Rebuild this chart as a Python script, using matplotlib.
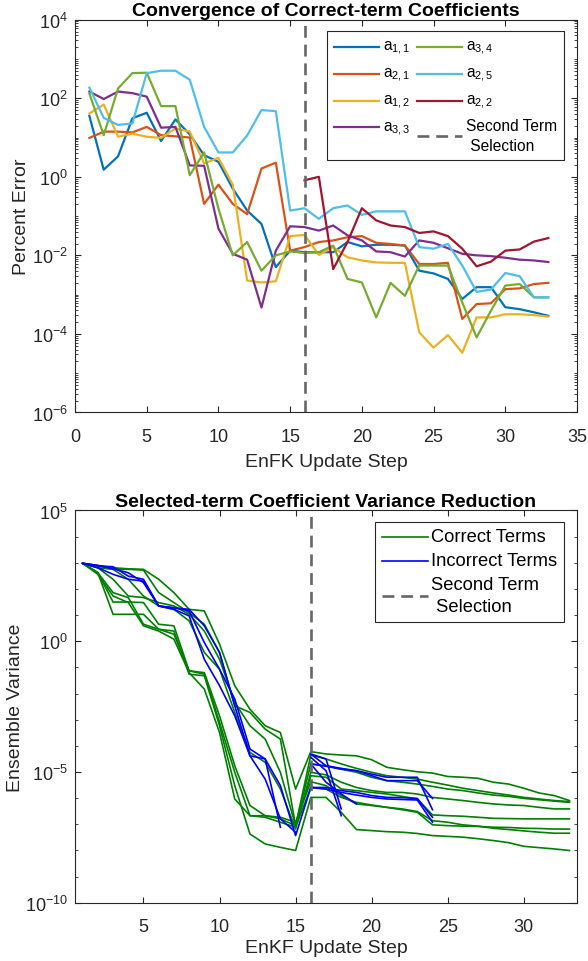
import numpy as np
import matplotlib
matplotlib.use("Agg")
import matplotlib.pyplot as plt
from matplotlib.lines import Line2D
from matplotlib.ticker import FixedLocator, LogLocator, NullFormatter, LogFormatterSciNotation

plt.rcParams['font.family'] = ['Liberation Sans', 'DejaVu Sans']
plt.rcParams['mathtext.fontset'] = 'custom'
plt.rcParams['mathtext.rm'] = 'Liberation Sans'
plt.rcParams['mathtext.it'] = 'Liberation Sans'
plt.rcParams['mathtext.default'] = 'regular'

nan = np.nan

# ---- top panel: percent error (log10 exponents), update steps 1..33
steps = np.arange(1, 34)
a11 = [1.55, 0.18, 0.52, 1.49, 1.63, 0.91, 1.46, 1.08, 0.55, 0.38,
       -0.3, -0.86, -1.2, -2.3, -1.88, -1.92, -1.92, -1.92, -1.66, -1.77, -1.73, -1.73,
       -1.75, -2.39, -2.46, -2.60, -3.11, -2.81, -2.81, -3.32, -3.37, -3.45, -3.54]
a21 = [0.99, 1.15, 1.15, 1.13, 1.27, 1.06, 1.03, 1.0, -0.69, -0.2,
       -0.69, -0.95, 0.21, 0.36, -1.88, -1.79, -1.66, -1.62, -1.54, -1.51, -1.68, -1.71,
       -1.75, -2.22, -2.22, -2.19, -3.62, -3.24, -3.22, -2.86, -2.84, -2.73, -2.70]
a12 = [1.61, 1.84, 1.02, 1.1, 1.02, 0.99, 1.23, 1.15, 0.34, 0.48,
       -0.2, -2.64, -2.69, -2.66, -1.51, -1.48, -1.99, -1.79, -2.05, -2.13, -2.18, -2.19,
       -2.19, -3.96, -4.35, -4.03, -4.48, -3.58, -3.58, -3.50, -3.50, -3.52, -3.56]
a33 = [2.17, 1.98, 2.17, 2.13, 2.04, 1.25, 1.27, 0.29, 0.28, -1.32,
       -1.96, -2.11, -3.33, -1.88, -1.26, -1.28, -1.37, -1.24, -1.49, -1.62, -1.90, -1.92,
       -2.03, -1.62, -1.68, -1.82, -1.96, -2.0, -2.02, -2.06, -2.11, -2.13, -2.17]
a34 = [2.12, 1.06, 2.25, 2.64, 2.65, 1.80, 1.80, 0.04, 0.62, -0.81,
       -2.0, -1.66, -2.39, -2.0, -1.90, -1.94, -1.92, -1.75, -2.60, -2.69, -3.58, -2.70,
       -3.03, -2.26, -2.26, -2.26, -3.2, -4.09, -3.41, -2.77, -2.73, -3.07, -3.07]
a25 = [2.27, 1.5, 1.32, 1.36, 2.64, 2.7, 2.7, 2.47, 1.27, 0.62,
       0.62, 1.05, 1.70, 1.67, -0.86, -0.80, -1.07, -0.80, -0.73, -0.97, -0.88, -0.88,
       -0.88, -1.79, -1.83, -1.71, -2.26, -2.93, -2.87, -2.45, -2.53, -3.07, -3.07]
a22 = [nan] * 15 + [-0.09, 0.0, -2.35, -1.66, -0.80, -1.11, -1.24,
                    -1.28, -1.43, -1.39, -1.51, -1.83, -2.28, -2.16, -1.88, -1.85, -1.65, -1.56]

top_series = [a11, a21, a12, a33, a34, a25, a22]
top_labels = ['$a_{1,1}$', '$a_{2,1}$', '$a_{1,2}$', '$a_{3,3}$',
              '$a_{3,4}$', '$a_{2,5}$', '$a_{2,2}$']
top_colors = ['#0072BD', '#D95319', '#EDB120', '#7E2F8E', '#77AC30', '#4DBEEE', '#A2142F']

second_sel = 16

# ---- bottom panel: ensemble variance (log10 exponents)
correct_terms = [
    [2.98, 2.62, 1.03, 1.03, 1.03, 0.46, 0.39, -1.26, -1.32, -3.23, -5.52, -7.37, -7.75, -7.88, -8.0,
     -5.97, -5.97, -6.54, -7.2, -7.24, -7.28, -7.3, -7.35, -7.43, -7.46, -7.49, -7.55, -7.62, -7.7, -7.84, -7.89, -7.94, -8.0],
    [2.98, 2.62, 1.50, 1.50, 1.48, 0.65, 0.59, -1.13, -1.26, -3.10, -5.01, -6.67, -6.67, -6.73, -6.92,
     -5.37, -5.52, -5.90, -6.22, -6.28, -6.35, -6.44, -6.54, -7.02, -7.05, -7.07, -7.08, -7.11, -7.12, -7.15, -7.16, -7.18, -7.18],
    [2.98, 2.90, 2.81, 2.77, 2.75, 2.37, 1.86, 1.22, 1.16, -0.11, -1.70, -2.60, -3.23, -3.49, -5.65,
     -4.22, -4.31, -4.35, -4.38, -4.53, -4.82, -4.91, -4.99, -5.04, -5.17, -5.2, -5.24, -5.39, -5.46, -5.62, -5.80, -5.90, -6.09],
    [2.98, 2.88, 2.75, 2.75, 2.72, 1.86, 1.48, 1.09, 0.65, -0.43, -2.47, -2.72, -3.36, -3.74, -7.05,
     -4.35, -4.50, -4.69, -4.86, -5.01, -5.14, -5.20, -5.27, -5.39, -5.50, -5.62, -5.71, -5.80, -5.88, -5.97, -6.03, -6.09, -6.13],
    [2.98, 2.81, 2.37, 1.73, 1.67, 1.48, 1.35, 1.03, 0.39, -0.69, -2.34, -3.23, -3.74, -5.01, -7.05,
     -4.69, -4.76, -4.89, -5.01, -5.2, -5.33, -5.39, -5.46, -5.55, -5.65, -5.71, -5.80, -5.88, -5.93, -6.01, -6.06, -6.11, -6.16],
    [2.98, 2.81, 2.75, 2.37, 1.73, 1.35, 1.22, 0.78, -0.43, -1.07, -2.72, -4.25, -4.63, -5.65, -7.18,
     -5.01, -5.11, -5.39, -5.59, -5.71, -5.78, -5.78, -5.84, -5.97, -6.03, -6.09, -6.16, -6.22, -6.26, -6.28, -6.35, -6.41, -6.41],
    [2.98, 2.62, 1.86, 1.67, 0.65, 0.46, 0.27, -1.13, -1.20, -2.85, -4.76, -6.28, -6.67, -6.79, -7.05,
     -5.14, -5.2, -5.65, -5.71, -5.78, -5.84, -5.93, -6.03, -6.64, -6.67, -6.69, -6.73, -6.77, -6.78, -6.79, -6.79, -6.79, -6.79],
    [2.98, 2.56, 1.73, 1.48, 0.59, 0.39, 0.08, -1.20, -1.83, -3.49, -6.03, -6.67, -6.73, -6.92, -7.11,
     -5.59, -5.65, -5.97, -6.16, -6.26, -6.35, -6.41, -6.51, -6.86, -6.92, -7.02, -7.07, -7.15, -7.2, -7.25, -7.30, -7.34, -7.34],
]
incorrect_terms = [
    [2.98, 2.88, 2.85, 2.49, 2.37, 1.35, 1.28, 1.22, 0.59, -0.43, -2.47, -4.38, -4.50, -7.11] + [nan] * 19,
    [2.98, 2.81, 2.56, 2.37, 2.30, 1.35, 1.28, 1.16, -0.05, -1.07, -2.21, -4.12, -4.50, -5.52, -7.43,
     -5.59, -5.59, -5.71, -5.78, -5.90, -5.97, -5.98, -6.01, -6.73] + [nan] * 9,
    [2.98, 2.90, 2.77, 2.62, 2.24, 1.35, 1.22, 0.97, -0.69, -1.70, -2.85, -4.38, -5.27, -6.79, -7.30] + [nan] * 18,
    [nan] * 15 + [-4.31, -4.50, -6.41] + [nan] * 15,
    [nan] * 15 + [-4.44, -4.95, -6.67] + [nan] * 15,
    [nan] * 15 + [-4.69, -5.39, -5.84, -6.22] + [nan] * 14,
    [nan] * 15 + [-4.31, -4.76, -4.86, -4.95, -5.14, -5.33, -5.33, -5.33, -6.01] + [nan] * 9,
    [nan] * 15 + [-4.69, -4.78, -4.89, -4.95, -5.08, -5.20, -5.20, -5.20, -6.44] + [nan] * 9,
    [nan] * 15 + [-5.59, -5.65, -5.78, -5.88, -5.97, -6.03, -6.05, -6.07, -6.92] + [nan] * 9,
]

axis_col = '#262626'
dash_col = '#666666'
dash_pat = (4.5, 2.6)


def tidy_legend(leg, spacing):
    # handle centred on a two-line label, as MATLAB does
    for col in leg._legend_handle_box.get_children():
        for row in col.get_children():
            row.align = 'center'
    for t in leg.get_texts():
        t.set_linespacing(spacing)
    leg.get_frame().set_linewidth(0.8)


fig = plt.figure(figsize=(5.88, 9.62), dpi=100)
ax1 = fig.add_axes([0.1276, 0.5702, 0.8537, 0.4083])
ax2 = fig.add_axes([0.1276, 0.0605, 0.8537, 0.4078])

# top panel
for vals, lab, col in zip(top_series, top_labels, top_colors):
    ax1.semilogy(steps, 10.0 ** np.array(vals), color=col, lw=1.6, label=lab)
ax1.axvline(second_sel, color=dash_col, lw=1.9, dashes=dash_pat,
            label='Second Term\n Selection')
ax1.set_xlim(0, 35)
ax1.set_ylim(1e-6, 1e4)
ax1.yaxis.set_major_locator(FixedLocator([1e-6, 1e-4, 1e-2, 1e0, 1e2, 1e4]))
ax1.yaxis.set_major_formatter(LogFormatterSciNotation())
ax1.yaxis.set_minor_locator(LogLocator(base=10, subs=np.arange(1, 10), numticks=100))
ax1.yaxis.set_minor_formatter(NullFormatter())
ax1.set_xticks(np.arange(0, 36, 5))
ax1.set_title('Convergence of Correct-term Coefficients', fontsize=14, fontweight='bold', pad=3.5)
ax1.set_xlabel('EnFK Update Step', fontsize=14, color=axis_col, labelpad=6)
ax1.set_ylabel('Percent Error', fontsize=14, color=axis_col, labelpad=1.5)
leg1 = ax1.legend(ncol=2, loc='upper right', bbox_to_anchor=(0.974, 0.971), borderaxespad=0,
                  fontsize=11.2, frameon=True, fancybox=False, edgecolor=axis_col, framealpha=1,
                  handlelength=2.9, handletextpad=0.25, columnspacing=0.45, labelspacing=0.55,
                  borderpad=0.45)
tidy_legend(leg1, 1.4)

# bottom panel
for vals in correct_terms:
    ax2.semilogy(steps, 10.0 ** np.array(vals), color='#008000', lw=1.2)
for vals in incorrect_terms:
    ax2.semilogy(steps, 10.0 ** np.array(vals), color='#0000FF', lw=1.2)
ax2.axvline(second_sel, color=dash_col, lw=1.9, dashes=dash_pat)
ax2.set_xlim(0.5, 33.5)
ax2.set_ylim(1e-10, 1e5)
ax2.yaxis.set_major_locator(FixedLocator([1e-10, 1e-5, 1e0, 1e5]))
ax2.yaxis.set_major_formatter(LogFormatterSciNotation())
ax2.yaxis.set_minor_locator(FixedLocator([10.0 ** k for k in range(-10, 6)]))
ax2.yaxis.set_minor_formatter(NullFormatter())
ax2.set_xticks(np.arange(5, 31, 5))
ax2.set_title('Selected-term Coefficient Variance Reduction', fontsize=14, fontweight='bold', pad=3.5)
ax2.set_xlabel('EnKF Update Step', fontsize=14, color=axis_col, labelpad=3)
ax2.set_ylabel('Ensemble Variance', fontsize=14, color=axis_col, labelpad=0.5)
handles = [Line2D([], [], color='#008000', lw=1.2),
           Line2D([], [], color='#0000FF', lw=1.2),
           Line2D([], [], color=dash_col, lw=1.9, dashes=dash_pat)]
leg2 = ax2.legend(handles, ['Correct Terms', 'Incorrect Terms', 'Second Term\n Selection'],
                  loc='upper right', bbox_to_anchor=(0.974, 0.971), borderaxespad=0,
                  fontsize=13.2, frameon=True, fancybox=False, edgecolor=axis_col, framealpha=1,
                  handlelength=2.5, handletextpad=0.2, labelspacing=0.38, borderpad=0.35)
tidy_legend(leg2, 1.4)

for ax in (ax1, ax2):
    ax.tick_params(which='both', direction='in', top=True, right=True, colors=axis_col)
    ax.tick_params(axis='x', which='major', labelsize=13, pad=11)
    ax.tick_params(axis='y', which='major', labelsize=13, pad=5)
    ax.tick_params(which='major', length=4)
    ax.tick_params(which='minor', length=2.5)
    for sp in ax.spines.values():
        sp.set_color(axis_col)
        sp.set_linewidth(0.8)

fig.savefig('out.png', dpi=100)
